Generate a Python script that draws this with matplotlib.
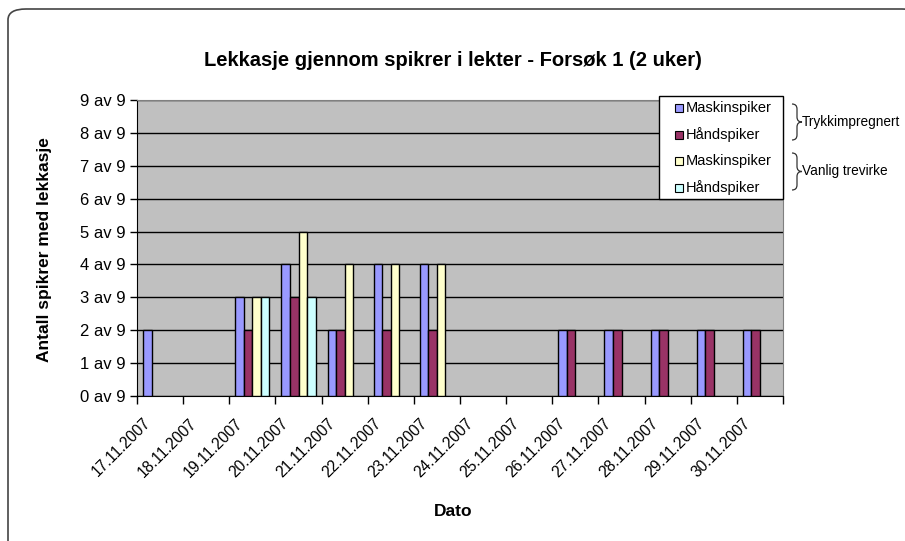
import numpy as np
import matplotlib
matplotlib.use("Agg")
import matplotlib.pyplot as plt
from matplotlib.patches import Rectangle, PathPatch, FancyBboxPatch
from matplotlib.path import Path
from matplotlib.transforms import ScaledTranslation

dates = ["17.11.2007", "18.11.2007", "19.11.2007", "20.11.2007", "21.11.2007",
         "22.11.2007", "23.11.2007", "24.11.2007", "25.11.2007", "26.11.2007",
         "27.11.2007", "28.11.2007", "29.11.2007", "30.11.2007"]
trykk_maskin = [2, 0, 3, 4, 2, 4, 4, 0, 0, 2, 2, 2, 2, 2]
trykk_hand = [0, 0, 2, 3, 2, 2, 2, 0, 0, 2, 2, 2, 2, 2]
vanlig_maskin = [0, 0, 3, 5, 4, 4, 4, 0, 0, 0, 0, 0, 0, 0]
vanlig_hand = [0, 0, 3, 3, 0, 0, 0, 0, 0, 0, 0, 0, 0, 0]
series_labels = ["Maskinspiker", "Håndspiker", "Maskinspiker", "Håndspiker"]
group_labels = ["Trykkimpregnert", "Vanlig trevirke"]
colors = ["#9999FF", "#993366", "#FFFFCC", "#CCFFFF"]
yticklabels = [f"{k} av 9" for k in range(10)]

plt.rcParams["font.family"] = ["Liberation Sans", "DejaVu Sans"]

W, H = 905, 541
fig = plt.figure(figsize=(W / 100, H / 100), dpi=100)


def fx(x):
    return x / W


def fy(y):
    return 1 - y / H


# outer chart frame (runs off the right/bottom edge like the screenshot)
fig.add_artist(FancyBboxPatch((fx(8), fy(560)), fx(920 - 8), fy(9) - fy(560),
                              boxstyle="round,pad=0,rounding_size=0.02",
                              transform=fig.transFigure, facecolor="white",
                              edgecolor="#444444", linewidth=1.2, zorder=0))

ax = fig.add_axes([fx(137), fy(396), fx(783 - 137), fy(100) - fy(396)])
ax.set_facecolor("#C0C0C0")

x = np.arange(len(dates))
bw = 0.185
all_series = [trykk_maskin, trykk_hand, vanlig_maskin, vanlig_hand]
for i, (vals, c) in enumerate(zip(all_series, colors)):
    bars = ax.bar(x + (i - 1.5) * bw, vals, width=bw, color=c,
                  edgecolor="black", linewidth=1.0, zorder=3)
    for b, v in zip(bars, vals):
        if v == 0:
            b.set_visible(False)

ax.set_xlim(-0.5, len(dates) - 0.5)
ax.set_ylim(0, 9)
ax.set_yticks(range(10))
ax.set_yticklabels(yticklabels, fontsize=12)
ax.yaxis.grid(True, color="black", linewidth=1.0, zorder=1)
ax.set_axisbelow(True)

ax.set_xticks(np.arange(-0.5, len(dates)), labels=[])
ax.set_xticks(x, minor=True)
ax.set_xticklabels(dates, minor=True, rotation=45, ha="right", va="top",
                   fontsize=11.2)
ax.tick_params(axis="x", which="major", direction="out", length=6, width=1)
ax.tick_params(axis="x", which="minor", length=0, pad=14)
ax.tick_params(axis="y", direction="out", length=5, width=1, pad=3)
for lbl in ax.get_xticklabels(minor=True):
    lbl.set_transform(lbl.get_transform()
                      + ScaledTranslation(-7 / 100, 0, fig.dpi_scale_trans))

for s in ["left", "bottom"]:
    ax.spines[s].set_color("black")
for s in ["top", "right"]:
    ax.spines[s].set_color("#808080")

fig.text(fx(453), fy(60), "Lekkasje gjennom spikrer i lekter - Forsøk 1 (2 uker)",
         ha="center", va="center", fontsize=14.5, fontweight="bold")
fig.text(fx(45), fy(250), "Antall spikrer med lekkasje", rotation=90,
         ha="center", va="center", fontsize=12.5, fontweight="bold")
fig.text(fx(453), fy(511), "Dato", ha="center", va="center",
         fontsize=12.5, fontweight="bold")

# legend, drawn by hand to match the Excel layout
fig.add_artist(Rectangle((fx(659), fy(199)), fx(783 - 659), fy(96) - fy(199),
                         transform=fig.transFigure, facecolor="white",
                         edgecolor="black", linewidth=1.0, zorder=5))
for yy, lab, c in zip([108, 135, 161, 188], series_labels, colors):
    fig.add_artist(Rectangle((fx(675), fy(yy + 4)), fx(8), fy(yy - 4) - fy(yy + 4),
                             transform=fig.transFigure, facecolor=c,
                             edgecolor="black", linewidth=0.8, zorder=6))
    fig.text(fx(686), fy(yy), lab, ha="left", va="center", fontsize=10.5,
             zorder=6)


def brace(x0, ytop, ybot):
    ym = (ytop + ybot) / 2
    xm = x0 + 5
    xt = x0 + 10
    verts = [(x0, ytop), (xm, ytop), (xm, ytop + 5),
             (xm, ym - 5),
             (xm, ym), (xt, ym),
             (xm, ym), (xm, ym + 5),
             (xm, ybot - 5),
             (xm, ybot), (x0, ybot)]
    codes = [Path.MOVETO, Path.CURVE3, Path.CURVE3, Path.LINETO,
             Path.CURVE3, Path.CURVE3, Path.CURVE3, Path.CURVE3,
             Path.LINETO, Path.CURVE3, Path.CURVE3]
    verts = [(fx(a), fy(b)) for a, b in verts]
    fig.add_artist(PathPatch(Path(verts, codes), transform=fig.transFigure,
                             facecolor="none", edgecolor="#333333", linewidth=0.9))
    return xt, ym


for (yt, yb), txt in zip([(104, 140), (153, 190)], group_labels):
    xt, ym = brace(792, yt, yb)
    fig.text(fx(xt), fy(ym), txt, ha="left", va="center", fontsize=9.8)

fig.savefig("out.png", dpi=100)
